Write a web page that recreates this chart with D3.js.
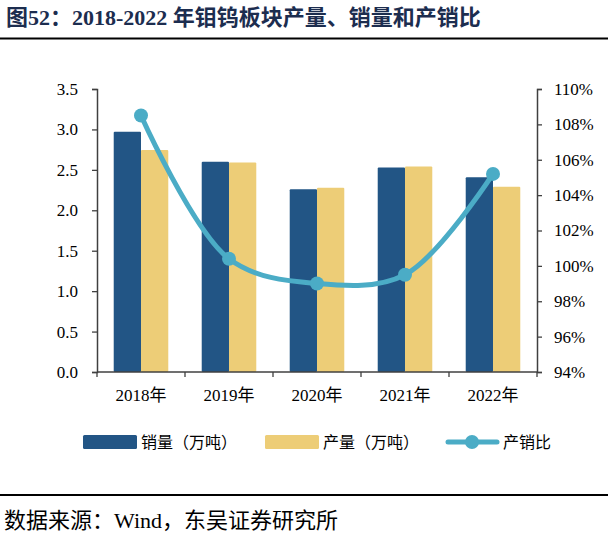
<!DOCTYPE html>
<html>
<head>
<meta charset="utf-8">
<script src="https://cdn.jsdelivr.net/npm/d3@7"></script>
<style>
  body { margin: 0; background: #fff; }
  svg { display: block; }
</style>
</head>
<body>
<svg id="chart" width="608" height="552"></svg>
<script>
// data
const years = ["2018年", "2019年", "2020年", "2021年", "2022年"];
const sales = [2.97, 2.60, 2.26, 2.53, 2.41];       // 销量（万吨）
const output = [2.745, 2.59, 2.28, 2.54, 2.29];     // 产量（万吨）
const ratio = [108.5, 100.4, 99.0, 99.5, 105.2];     // 产销比 %
const leftTicks = [0, 0.5, 1.0, 1.5, 2.0, 2.5, 3.0, 3.5];
const rightTicks = [94, 96, 98, 100, 102, 104, 106, 108, 110];

const salesColor = "#225585";
const outputColor = "#edcd77";
const ratioColor = "#4bacc6";
const axisColor = "#404040";
const serif = "'Liberation Serif', 'Times New Roman', 'Noto Sans CJK SC', serif";

let svg = d3.select("svg#chart");

let plot = { left: 97, right: 537, top: 89, bottom: 372 };

// scales
const xScale = d3.scaleBand()
  .domain(years)
  .range([plot.left, plot.right])
  .padding(0);

const xInner = d3.scaleBand()
  .domain(["sales", "output"])
  .range([xScale.bandwidth() * 0.19, xScale.bandwidth() * 0.81])
  .padding(0);

const leftScale = d3.scaleLinear()
  .domain([0, 3.5])
  .range([plot.bottom, plot.top]);

const rightScale = d3.scaleLinear()
  .domain([94, 110])
  .range([plot.bottom, plot.top]);

// title and rules
svg.append("text")
  .attr("x", 6)
  .attr("y", 25)
  .attr("font-family", serif)
  .attr("font-weight", "bold")
  .attr("font-size", "22px")
  .attr("fill", "#1c2d4f")
  .text("图52：2018-2022 年钼钨板块产量、销量和产销比");

svg.append("line")
  .attr("x1", 0).attr("x2", 608)
  .attr("y1", 38.5).attr("y2", 38.5)
  .attr("stroke", "#000").attr("stroke-width", 2);

svg.append("line")
  .attr("x1", 0).attr("x2", 608)
  .attr("y1", 495).attr("y2", 495)
  .attr("stroke", "#000").attr("stroke-width", 2);

svg.append("text")
  .attr("x", 4)
  .attr("y", 528)
  .attr("font-family", serif)
  .attr("font-size", "22px")
  .attr("fill", "#000")
  .text("数据来源：Wind，东吴证券研究所");

// bars
let groups = svg.append("g").selectAll("g")
  .data(years)
  .join("g")
  .attr("transform", d => "translate(" + xScale(d) + ",0)");

groups.append("rect")
  .attr("x", xInner("sales"))
  .attr("width", xInner.bandwidth())
  .attr("y", (d, i) => leftScale(sales[i]))
  .attr("height", (d, i) => leftScale(0) - leftScale(sales[i]))
  .attr("rx", 1)
  .attr("fill", salesColor);

groups.append("rect")
  .attr("x", xInner("output"))
  .attr("width", xInner.bandwidth())
  .attr("y", (d, i) => leftScale(output[i]))
  .attr("height", (d, i) => leftScale(0) - leftScale(output[i]))
  .attr("rx", 1)
  .attr("fill", outputColor);

// axes
let leftAxis = d3.axisLeft(leftScale).tickValues(leftTicks).tickSize(5).tickFormat(d3.format(".1f"));
let rightAxis = d3.axisRight(rightScale).tickValues(rightTicks).tickSize(5).tickFormat(d => d + "%");
let bottomAxis = d3.axisBottom(xScale).tickSize(0).tickPadding(17);

function styleAxis(g) {
  g.select(".domain").attr("stroke", axisColor).attr("stroke-width", 1.5);
  g.selectAll(".tick line").attr("stroke", axisColor).attr("stroke-width", 1.3);
  g.selectAll(".tick text")
    .attr("font-family", serif)
    .attr("font-size", "17px")
    .attr("fill", "#000");
}

svg.append("g")
  .attr("transform", "translate(" + plot.left + ",0)")
  .call(leftAxis)
  .call(styleAxis)
  .call(g => g.selectAll(".tick text").attr("x", -19));

svg.append("g")
  .attr("transform", "translate(" + plot.right + ",0)")
  .call(rightAxis)
  .call(styleAxis)
  .call(g => g.selectAll(".tick text").attr("x", 17));

svg.append("g")
  .attr("transform", "translate(0," + plot.bottom + ")")
  .call(bottomAxis)
  .call(styleAxis)
  .call(g => g.select(".domain").attr("d", "M" + plot.left + ",0H" + plot.right));

// category boundary ticks on the bottom axis
svg.append("g").selectAll("line")
  .data(years.concat(["end"]))
  .join("line")
  .attr("x1", (d, i) => i < years.length ? xScale(d) : plot.right)
  .attr("x2", (d, i) => i < years.length ? xScale(d) : plot.right)
  .attr("y1", plot.bottom)
  .attr("y2", plot.bottom + 5)
  .attr("stroke", axisColor)
  .attr("stroke-width", 1.3);

// ratio line
let lineGen = d3.line()
  .x((d, i) => xScale(years[i]) + xScale.bandwidth() / 2)
  .y(d => rightScale(d))
  .curve(d3.curveCatmullRom.alpha(0.5));

svg.append("path")
  .datum(ratio)
  .attr("d", lineGen)
  .attr("fill", "none")
  .attr("stroke", ratioColor)
  .attr("stroke-width", 5)
  .attr("stroke-linecap", "round");

svg.append("g").selectAll("circle")
  .data(ratio)
  .join("circle")
  .attr("cx", (d, i) => xScale(years[i]) + xScale.bandwidth() / 2)
  .attr("cy", d => rightScale(d))
  .attr("r", 7)
  .attr("fill", ratioColor);

// legend
let legend = svg.append("g").attr("font-family", serif).attr("font-size", "16px");

legend.append("rect")
  .attr("x", 83).attr("y", 435).attr("width", 54).attr("height", 14)
  .attr("rx", 1.5).attr("fill", salesColor);
legend.append("text")
  .attr("x", 141).attr("y", 448).text("销量（万吨）");

legend.append("rect")
  .attr("x", 265).attr("y", 435).attr("width", 54).attr("height", 14)
  .attr("rx", 1.5).attr("fill", outputColor);
legend.append("text")
  .attr("x", 323).attr("y", 448).text("产量（万吨）");

legend.append("line")
  .attr("x1", 448).attr("x2", 497).attr("y1", 442).attr("y2", 442)
  .attr("stroke", ratioColor).attr("stroke-width", 5).attr("stroke-linecap", "round");
legend.append("circle")
  .attr("cx", 472).attr("cy", 442).attr("r", 7).attr("fill", ratioColor);
legend.append("text")
  .attr("x", 503).attr("y", 448).text("产销比");
</script>
</body>
</html>
